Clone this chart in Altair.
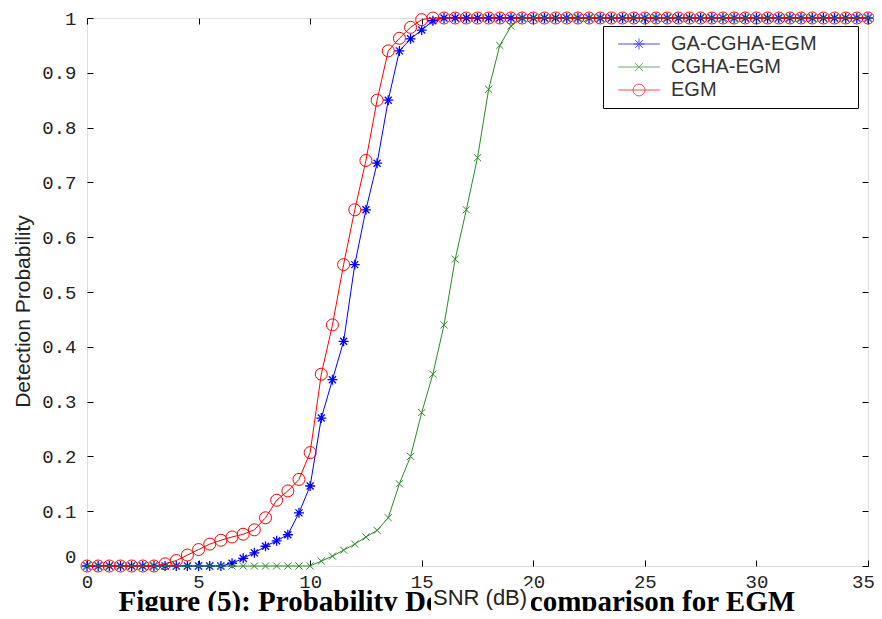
import altair as alt
import pandas as pd

snr = [0, 0.5, 1, 1.5, 2, 2.5, 3, 3.5, 4, 4.5, 5, 5.5, 6, 6.5, 7, 7.5, 8, 8.5, 9, 9.5,
       10, 10.5, 11, 11.5, 12, 12.5, 13, 13.5, 14, 14.5, 15, 15.5, 16, 16.5, 17, 17.5,
       18, 18.5, 19, 19.5, 20, 20.5, 21, 21.5, 22, 22.5, 23, 23.5, 24, 24.5, 25, 25.5,
       26, 26.5, 27, 27.5, 28, 28.5, 29, 29.5, 30, 30.5, 31, 31.5, 32, 32.5, 33, 33.5,
       34, 34.5, 35]

ga_cgha_egm = [0, 0, 0, 0, 0, 0, 0, 0, 0, 0, 0, 0, 0,
               0.005, 0.014, 0.024, 0.036, 0.046, 0.057, 0.097, 0.146, 0.27, 0.34, 0.41,
               0.55, 0.65, 0.735, 0.85, 0.94, 0.962, 0.978, 0.995,
               1, 1, 1, 1, 1, 1, 1, 1, 1, 1, 1, 1, 1, 1, 1, 1, 1, 1, 1, 1,
               1, 1, 1, 1, 1, 1, 1, 1, 1, 1, 1, 1, 1, 1, 1, 1, 1, 1, 1]

cgha_egm = [0, 0, 0, 0, 0, 0, 0, 0, 0, 0, 0, 0, 0, 0, 0, 0, 0, 0, 0, 0, 0,
            0.009, 0.018, 0.029, 0.04, 0.053, 0.065, 0.088, 0.15, 0.2, 0.28, 0.35,
            0.44, 0.56, 0.65, 0.745, 0.87, 0.95, 0.985,
            1, 1, 1, 1, 1, 1, 1, 1, 1, 1, 1, 1, 1, 1, 1, 1,
            1, 1, 1, 1, 1, 1, 1, 1, 1, 1, 1, 1, 1, 1, 1, 1]

egm = [0, 0, 0, 0, 0, 0, 0,
       0.004, 0.01, 0.02, 0.03, 0.04, 0.047, 0.053, 0.058, 0.066, 0.088, 0.12, 0.137,
       0.158, 0.207, 0.35, 0.44, 0.55, 0.65, 0.74, 0.85, 0.94, 0.963, 0.983, 0.997,
       1, 1, 1, 1, 1, 1, 1, 1, 1, 1, 1, 1, 1, 1, 1, 1, 1, 1, 1, 1,
       1, 1, 1, 1, 1, 1, 1, 1, 1, 1, 1, 1, 1, 1, 1, 1, 1, 1, 1, 1]

series_names = ["GA-CGHA-EGM", "CGHA-EGM", "EGM"]
series_colors = ["#0000ff", "#2a8a2a", "#ff0000"]
x_ticks = [0, 5, 10, 15, 20, 25, 30, 35]
y_ticks = [0, 0.1, 0.2, 0.3, 0.4, 0.5, 0.6, 0.7, 0.8, 0.9, 1]
caption = "Figure (5): Probability Detection comparison for EGM"
x_title = "SNR (dB)"
y_title = "Detection Probability"

rows = []
for name, vals in zip(series_names, [ga_cgha_egm, cgha_egm, egm]):
    for s, v in zip(snr, vals):
        rows.append({"series": name, "snr": s, "pd": v})
df = pd.DataFrame(rows)

W, H = 781, 548

star_path = "M0,-1L0,1M-1,0L1,0M-0.7,-0.7L0.7,0.7M-0.7,0.7L0.7,-0.7"
x_path = "M-1,-1L1,1M-1,1L1,-1"

leg_star = "M-3.2,0L3.2,0M0,-0.85L0,0.85M-0.85,0L0.85,0M-0.6,-0.6L0.6,0.6M-0.6,0.6L0.6,-0.6"
leg_x = "M-3.2,0L3.2,0M-0.6,-0.6L0.6,0.6M-0.6,0.6L0.6,-0.6"
leg_circle = "M-3.2,0L3.2,0M0.92,0A0.92,0.92,0,1,1,-0.92,0A0.92,0.92,0,1,1,0.92,0Z"

xscale = alt.Scale(domain=[0, 35], nice=False, zero=False)
yscale = alt.Scale(domain=[0, 1], nice=False, zero=False)

# bottom axis: tick labels, and the figure caption placed as its title
x_main = alt.Axis(orient="bottom", values=x_ticks, format="d", labelFlush=False,
                  ticks=False, domain=False, grid=False, title=caption,
                  labelFont="Liberation Mono", labelFontSize=19, labelColor="#222",
                  labelPadding=6,
                  labelOffset={"condition": {"test": "datum.value === 35", "value": -5},
                               "value": 0},
                  titleFont="Liberation Serif", titleFontSize=29,
                  titleFontWeight="bold", titleColor="#000",
                  titleAnchor="start", titleAlign="left", titleBaseline="alphabetic",
                  titleX=31, titleY=44, zindex=0)
y_main = alt.Axis(orient="left", values=y_ticks, format="~g", labelFlush=False,
                  ticks=False, domain=False, grid=False, title=y_title,
                  labelFont="Liberation Mono", labelFontSize=19, labelColor="#222",
                  labelPadding=11,
                  labelBaseline={"condition": {"test": "datum.value === 0", "value": "bottom"},
                                 "value": "middle"},
                  titleFont="Liberation Sans", titleFontSize=21,
                  titleFontWeight="normal", titleColor="#222", titlePadding=8,
                  titleY=293)

def tick_axis(orient, offset, vals):
    return alt.Axis(orient=orient, offset=offset, values=vals, labels=False,
                    domain=False, grid=False, ticks=True, tickSize=6,
                    tickColor="#000", tickWidth=1, title=None)

def series_layer(name, color, shape, size, sw, xaxis, yaxis):
    return alt.Chart(df).transform_filter(alt.datum.series == name).mark_line(
        color=color, strokeWidth=1,
        point=alt.OverlayMarkDef(shape=shape, filled=False, color=color,
                                 size=size, strokeWidth=sw, opacity=1)
    ).encode(
        x=alt.X("snr:Q", scale=xscale, axis=xaxis),
        y=alt.Y("pd:Q", scale=yscale, axis=yaxis),
    )

blue = series_layer("GA-CGHA-EGM", series_colors[0], star_path, 100, 1.3, x_main, y_main)
green = series_layer("CGHA-EGM", series_colors[1], x_path, 50, 1,
                     tick_axis("top", -H, x_ticks), tick_axis("right", -W, y_ticks))
red = series_layer("EGM", series_colors[2], "circle", 144, 1,
                   tick_axis("bottom", -H, x_ticks), tick_axis("left", -W, y_ticks))

# trailing no-break spaces (closed by a zero-width char so they are not trimmed)
pad = "\u00a0" * 6 + "\u200b"
leg = alt.Legend(orient="none", legendX=516, legendY=8, title=None,
                 labelFont="Liberation Sans", labelFontSize=20, labelColor="#333",
                 labelLimit=500,
                 symbolSize=169, symbolStrokeWidth=1, symbolOffset=18, labelOffset=22,
                 padding=8, rowPadding=3, strokeColor="#000", fillColor="#ffffff",
                 labelExpr="datum.label + '" + pad + "'")

# x-axis title drawn as a white-backed label above the caption (as in the figure)
snr_leg = alt.Legend(orient="none", legendX=344, legendY=568, title=x_title,
                     titleFont="Liberation Sans", titleFontSize=22,
                     titleFontWeight="normal", titleColor="#222", titlePadding=0,
                     titleLimit=400, padding=2, fillColor="#ffffff",
                     strokeColor="#ffffff", values=[0], labelExpr="''",
                     labelFontSize=1, symbolOpacity=0, rowPadding=0)

helper = alt.Chart(df).transform_filter("false").mark_point(filled=False).encode(
    x=alt.X("snr:Q", scale=xscale, axis=None),
    y=alt.Y("pd:Q", scale=yscale, axis=None),
    color=alt.Color("series:N", scale=alt.Scale(domain=series_names, range=series_colors),
                    legend=leg),
    shape=alt.Shape("series:N", scale=alt.Scale(domain=series_names,
                                                range=[leg_star, leg_x, leg_circle]),
                    legend=leg),
    size=alt.Size("pd:Q", scale=alt.Scale(domain=[0, 1], range=[0, 0]),
                  legend=snr_leg),
)

chart = alt.layer(blue, green, red, helper).resolve_axis(
    x="independent", y="independent"
).properties(
    width=W, height=H,
    padding={"left": 79, "top": 10, "right": 6, "bottom": 45},
    autosize=alt.AutoSizeParams(type="none"),
).configure_view(
    fill="#f2f2f2", stroke="#000", strokeWidth=1.2
).configure(background="#ffffff")

chart.save("out.html", embed_options={"renderer": "svg", "actions": False})
